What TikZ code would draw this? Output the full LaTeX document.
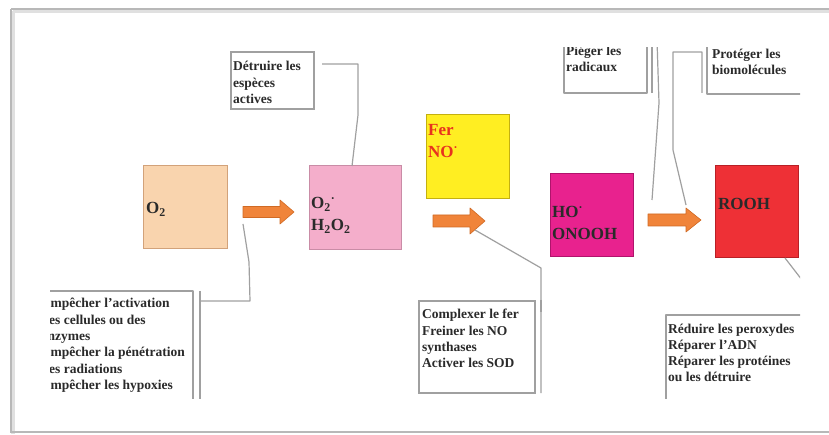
\documentclass[tikz,border=0pt]{standalone}
\usepackage{fontspec}
\setmainfont{Liberation Serif}
\definecolor{peach}{HTML}{F9D4AE}
\definecolor{peachD}{HTML}{D2A27A}
\definecolor{pinkb}{HTML}{F4AECB}
\definecolor{pinkD}{HTML}{C98CA6}
\definecolor{yell}{HTML}{FFEE22}
\definecolor{yellD}{HTML}{C4B010}
\definecolor{magb}{HTML}{E8228E}
\definecolor{magD}{HTML}{B0146C}
\definecolor{redb}{HTML}{EE3036}
\definecolor{redD}{HTML}{B82026}
\definecolor{orangeA}{HTML}{F0843A}
\definecolor{orangeD}{HTML}{D06A24}
\definecolor{ferred}{HTML}{E8321E}
\definecolor{txt}{HTML}{2A2A2A}
\definecolor{cline}{HTML}{A0A0A0}
\begin{document}
\begin{tikzpicture}[x=1pt,y=-1pt,
  cbox/.style={draw, line width=1, anchor=north west, inner sep=0, outer sep=0},
  callout/.style={draw=cline, line width=1.2, line join=round},
  small/.style={inner sep=0, anchor=base west, text=txt, font=\fontsize{13.5}{16.3}\selectfont\bfseries},
  big/.style={inner sep=0, anchor=base west, text=txt, font=\fontsize{17}{22}\selectfont\bfseries},
  orarrow/.style={fill=orangeA, draw=orangeD, line width=0.6, line join=round}]
\useasboundingbox (0,0) rectangle (829,435);
\fill[white] (0,0) rectangle (829,435);
% frame with soft shadow
\draw[black!12, line width=4] (13,11) -- (833,11);
\draw[black!12, line width=4] (13,11) -- (13,434);
\draw[black!28, line width=1.4] (11,9) -- (833,9);
\draw[black!28, line width=1.4] (11,9) -- (11,432) -- (833,432);
\begin{scope}
\clip (50,48) rectangle (800,398);
% coloured boxes
\node[cbox, fill=peach, draw=peachD, minimum width=84, minimum height=83] (o2) at (143,166) {};
\node[cbox, fill=pinkb, draw=pinkD, minimum width=92, minimum height=84] (o2r) at (309,166) {};
\node[cbox, fill=yell, draw=yellD, minimum width=83, minimum height=84] (fer) at (426,115) {};
\node[cbox, fill=magb, draw=magD, minimum width=83, minimum height=83] (ho) at (550,174) {};
\node[cbox, fill=redb, draw=redD, minimum width=83, minimum height=92] (rooh) at (715,166) {};
% box labels
\node[big] (t1) at (146,214) {O\textsubscript{2}};
\node[big] (t2) at (311,209) {\vtop{\hbox{O\textsubscript{2}\textsuperscript{·}}\hbox{H\textsubscript{2}O\textsubscript{2}}}};
\node[big, text=ferred] (t3) at (428,136) {\vtop{\hbox{Fer}\hbox{NO\textsuperscript{·}}}};
\node[big] (t4) at (552,218) {\vtop{\hbox{HO\textsuperscript{·}}\hbox{ONOOH}}};
\node[big] (t5) at (718,210) {ROOH};
% orange arrows
\coordinate (a1) at (243,212);
\coordinate (a2) at (433,221);
\coordinate (a3) at (648,220);
\draw[orarrow] (a1) ++(0,-5.5) -- ++(37,0) -- ++(0,-6.5) -- ++(14,12) -- ++(-14,12) -- ++(0,-6.5) -- ++(-37,0) -- cycle;
\draw[orarrow] (a2) ++(0,-6) -- ++(37,0) -- ++(0,-7) -- ++(15,13) -- ++(-15,13) -- ++(0,-7) -- ++(-37,0) -- cycle;
\draw[orarrow] (a3) ++(0,-6) -- ++(38,0) -- ++(0,-6) -- ++(15,12) -- ++(-15,12) -- ++(0,-6) -- ++(-38,0) -- cycle;
% callout: detruire
\node[cbox, draw=cline, line width=1.2, minimum width=83, minimum height=57] (cb1) at (231,52) {};
\node[small] (c1) at (233,71) {\vtop{\hbox{Détruire les}\hbox{espèces}\hbox{actives}}};
\draw[callout] (322,64) -- (358,64) -- (358,115) -- (o2r.north -| 352,0);
% callout: left
\draw[callout] (40,291) -- (193,291) -- (193,400);
\draw[callout] (200,291) -- (200,400);
\draw[callout] (243,224) -- (249,262) -- (250,301) -- (201,301);
\node[small] (c2) at (41.5,308) {\vtop{\hbox{Empêcher l'activation}\hbox{des cellules ou des}\hbox{enzymes}\hbox{Empêcher la pénétration}\hbox{des radiations}\hbox{Empêcher les hypoxies}}};
% callout: complexer
\node[cbox, draw=cline, line width=1.2, minimum width=116, minimum height=92] (cb3) at (419,301) {};
\node[small] (c3) at (422,319) {\vtop{\hbox{Complexer le fer}\hbox{Freiner les NO}\hbox{synthases}\hbox{Activer les SOD}}};
\draw[callout] (475,230) -- (541,268) -- (541,393);
\draw[cline, line width=2] (541,300) -- (541,312);
% callout: pieger
\draw[callout] (564,40) -- (564,93) -- (647,93) -- (647,40);
\node[small] (c4) at (566,55.5) {\vtop{\hbox{Piéger les}\hbox{radicaux}}};
\draw[callout] (652,40) -- (652,93);
\draw[callout] (657,40) -- (659,103) -- (652,200);
% callout: proteger
\draw[callout] (686,205) -- (673,150) -- (673,52) -- (702,52) -- (702,93);
\draw[callout] (707,40) -- (707,94) -- (805,94);
\node[small] (c5) at (712,58.5) {\vtop{\hbox{Protéger les}\hbox{biomolécules}}};
% callout: reduire
\draw[callout] (785,258) -- (802,280);
\draw[callout] (805,315) -- (666,315) -- (666,400);
\node[small] (c6) at (668,333) {\vtop{\hbox{Réduire les peroxydes}\hbox{Réparer l'ADN}\hbox{Réparer les protéines}\hbox{ou les détruire}}};
\end{scope}
\end{tikzpicture}
\end{document}
